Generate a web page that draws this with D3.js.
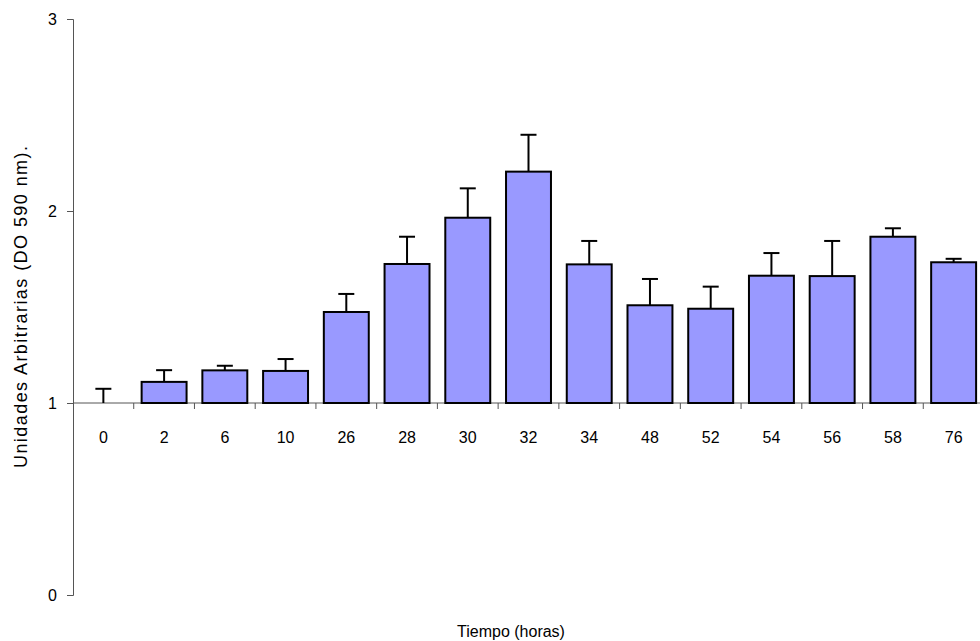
<!DOCTYPE html>
<html>
<head>
<meta charset="utf-8">
<script src="https://cdn.jsdelivr.net/npm/d3@7"></script>
<style>
html,body{margin:0;padding:0;background:#fff;}
svg{display:block;font-family:"Liberation Sans",Arial,sans-serif;}
</style>
</head>
<body>
<svg id="chart" width="980" height="641"></svg>
<script>
const categories = ["0","2","6","10","26","28","30","32","34","48","52","54","56","58","76"];
const values = [1.00,1.11,1.17,1.167,1.474,1.724,1.965,2.205,1.722,1.509,1.491,1.663,1.661,1.866,1.733];
const errors = [0.074,0.061,0.024,0.062,0.094,0.142,0.153,0.192,0.122,0.137,0.115,0.118,0.183,0.044,0.018];
const yTicks = [0,1,2,3];
const xTitle = "Tiempo (horas)";
const yTitle = "Unidades Arbitrarias (DO 590 nm).";

(function(){
const svg = d3.select("#chart");
const mLeft = 73, mRight = 984, mTop = 19, mBottom = 595;
const baseVal = 1;

const x = d3.scaleBand().domain(categories).range([mLeft, mRight]).paddingInner(0.26).paddingOuter(0.13);
const y = d3.scaleLinear().domain([0,3]).range([mBottom, mTop]);
const step = x.step();

// Y axis
const yAxis = svg.append("g").attr("transform", `translate(${mLeft},0)`)
  .call(d3.axisLeft(y).tickValues(yTicks).tickFormat(d3.format("d")).tickSize(6).tickPadding(10));
yAxis.select(".domain").attr("stroke","#555").attr("stroke-width",1);
yAxis.selectAll(".tick line").attr("stroke","#555");
yAxis.selectAll("text").attr("font-size",16).attr("fill","#000").attr("font-family","Liberation Sans, Arial, sans-serif");

// X axis at value 1
const xg = svg.append("g");
xg.append("line").attr("x1",mLeft).attr("x2",980).attr("y1",y(baseVal)).attr("y2",y(baseVal))
  .attr("stroke","#555").attr("stroke-width",1);
xg.selectAll("line.tk").data(categories.slice(0,-1)).join("line").attr("class","tk")
  .attr("x1",d=>x(d)+x.bandwidth()+step*x.paddingInner()/2)
  .attr("x2",d=>x(d)+x.bandwidth()+step*x.paddingInner()/2)
  .attr("y1",y(baseVal)).attr("y2",y(baseVal)+6).attr("stroke","#555");
xg.selectAll("text").data(categories).join("text")
  .attr("x",d=>x(d)+x.bandwidth()/2).attr("y",y(baseVal)+40)
  .attr("text-anchor","middle").attr("font-size",16).text(d=>d);

// Bars
svg.append("g").selectAll("rect").data(categories.map((c,i)=>({c,v:values[i],e:errors[i]}))).join("rect")
  .attr("x",d=>x(d.c)).attr("width",x.bandwidth())
  .attr("y",d=>y(Math.max(d.v,baseVal))).attr("height",d=>Math.abs(y(d.v)-y(baseVal)))
  .attr("fill","#9999FF").attr("stroke","#000").attr("stroke-width",2);

// Error bars
const eg = svg.append("g").attr("stroke","#000").attr("stroke-width",2);
categories.forEach((c,i)=>{
  const cx = x(c)+x.bandwidth()/2;
  eg.append("line").attr("x1",cx).attr("x2",cx).attr("y1",y(values[i])).attr("y2",y(values[i]+errors[i]));
  eg.append("line").attr("x1",cx-8).attr("x2",cx+8).attr("y1",y(values[i]+errors[i])).attr("y2",y(values[i]+errors[i]));
});

// Titles
svg.append("text").attr("x",511).attr("y",637).attr("text-anchor","middle").attr("font-size",16).text(xTitle);
svg.append("text").attr("transform",`translate(27,${(mTop+mBottom)/2}) rotate(-90)`).attr("text-anchor","middle")
  .attr("font-size",18).attr("textLength",322).attr("lengthAdjust","spacing").text(yTitle);
})();
</script>
</body>
</html>
